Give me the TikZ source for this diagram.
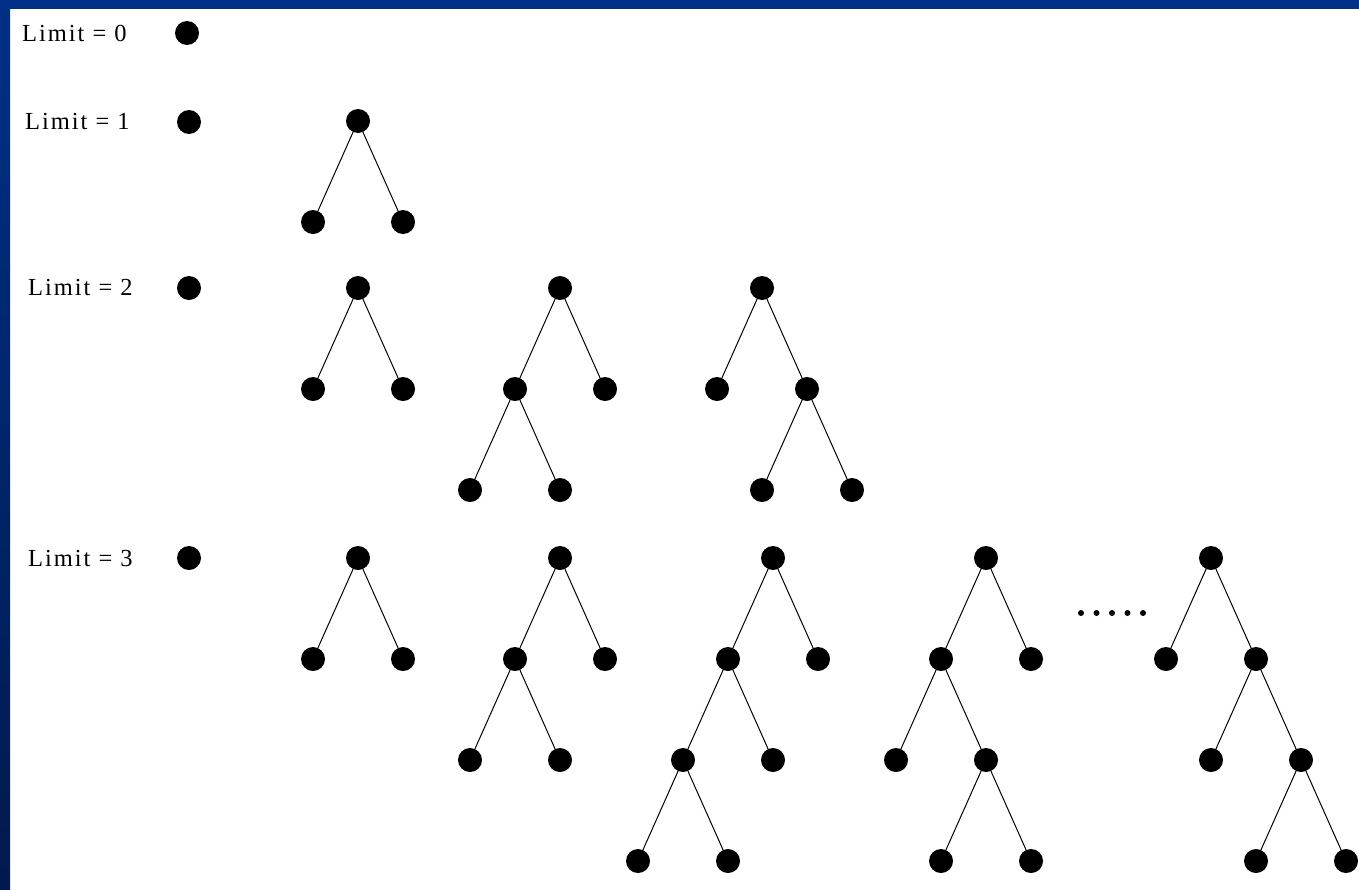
\documentclass[tikz,border=0pt]{standalone}
\usepackage{fontspec}
\setmainfont{Liberation Serif}
\newfontfamily\labelfont[LetterSpace=8]{Liberation Serif}
\usepackage{xcolor}
\usetikzlibrary{positioning}
\definecolor{frametop}{HTML}{003087}
\definecolor{framebot}{HTML}{001A4D}

\begin{document}
\begin{tikzpicture}[
  x=1pt, y=1pt,
  node distance=101pt and 45pt, on grid,
  dot/.style={circle, fill=black, minimum size=24pt, inner sep=0pt},
  edge/.style={draw, line width=1pt},
  lbl/.style={anchor=west, inner sep=0pt, font=\fontsize{24.5}{28}\selectfont\labelfont},
]
  \useasboundingbox (0,-889) rectangle (1359,0);
  % frame
  \fill[white] (0,-889) rectangle (1359,0);
  \shade[top color=frametop, bottom color=framebot] (0,-889) rectangle (10,0);
  \fill[frametop] (0,-9) rectangle (1359,0);

  % limit 0
  \node[lbl] (l0) at (22,-33) {Limit = 0};
  \node[dot] (d0) at (187,-33) {};

  % limit 1
  \node[lbl] (l1) at (25,-122) {Limit = 1};
  \node[dot] (d1) at (189,-122) {};
  \node[dot] (a) at (358,-121) {};
  \node[dot, below left=of a] (al) {};
  \node[dot, below right=of a] (ar) {};
  \draw[edge] (a) -- (al);
  \draw[edge] (a) -- (ar);

  % limit 2
  \node[lbl] (l2) at (28,-288) {Limit = 2};
  \node[dot] (d2) at (189,-288) {};
  \node[dot] (b) at (358,-288) {};
  \node[dot, below left=of b] (bl) {};
  \node[dot, below right=of b] (br) {};
  \draw[edge] (b) -- (bl);
  \draw[edge] (b) -- (br);

  \node[dot] (c) at (560,-288) {};
  \node[dot, below left=of c] (cl) {};
  \node[dot, below right=of c] (cr) {};
  \node[dot, below left=of cl] (cll) {};
  \node[dot, below right=of cl] (clr) {};
  \draw[edge] (c) -- (cl);
  \draw[edge] (c) -- (cr);
  \draw[edge] (cl) -- (cll);
  \draw[edge] (cl) -- (clr);

  \node[dot] (e) at (762,-288) {};
  \node[dot, below left=of e] (el) {};
  \node[dot, below right=of e] (er) {};
  \node[dot, below left=of er] (erl) {};
  \node[dot, below right=of er] (err) {};
  \draw[edge] (e) -- (el);
  \draw[edge] (e) -- (er);
  \draw[edge] (er) -- (erl);
  \draw[edge] (er) -- (err);

  % limit 3
  \node[lbl] (l3) at (28,-558) {Limit = 3};
  \node[dot] (d3) at (189,-558) {};
  \node[dot] (f) at (358,-558) {};
  \node[dot, below left=of f] (fl) {};
  \node[dot, below right=of f] (fr) {};
  \draw[edge] (f) -- (fl);
  \draw[edge] (f) -- (fr);

  \node[dot] (g) at (560,-558) {};
  \node[dot, below left=of g] (gl) {};
  \node[dot, below right=of g] (gr) {};
  \node[dot, below left=of gl] (gll) {};
  \node[dot, below right=of gl] (glr) {};
  \draw[edge] (g) -- (gl);
  \draw[edge] (g) -- (gr);
  \draw[edge] (gl) -- (gll);
  \draw[edge] (gl) -- (glr);

  \node[dot] (h) at (773,-558) {};
  \node[dot, below left=of h] (hl) {};
  \node[dot, below right=of h] (hr) {};
  \node[dot, below left=of hl] (hll) {};
  \node[dot, below right=of hl] (hlr) {};
  \node[dot, below left=of hll] (hlll) {};
  \node[dot, below right=of hll] (hllr) {};
  \draw[edge] (h) -- (hl);
  \draw[edge] (h) -- (hr);
  \draw[edge] (hl) -- (hll);
  \draw[edge] (hl) -- (hlr);
  \draw[edge] (hll) -- (hlll);
  \draw[edge] (hll) -- (hllr);

  \node[dot] (k) at (986,-558) {};
  \node[dot, below left=of k] (kl) {};
  \node[dot, below right=of k] (kr) {};
  \node[dot, below left=of kl] (kll) {};
  \node[dot, below right=of kl] (klr) {};
  \node[dot, below left=of klr] (klrl) {};
  \node[dot, below right=of klr] (klrr) {};
  \draw[edge] (k) -- (kl);
  \draw[edge] (k) -- (kr);
  \draw[edge] (kl) -- (kll);
  \draw[edge] (kl) -- (klr);
  \draw[edge] (klr) -- (klrl);
  \draw[edge] (klr) -- (klrr);

  % ellipsis
  \foreach \i in {0,...,4}
    \fill (1081+15.5*\i,-613) circle (3pt);

  \node[dot] (m) at (1211,-558) {};
  \node[dot, below left=of m] (ml) {};
  \node[dot, below right=of m] (mr) {};
  \node[dot, below left=of mr] (mrl) {};
  \node[dot, below right=of mr] (mrr) {};
  \node[dot, below left=of mrr] (mrrl) {};
  \node[dot, below right=of mrr] (mrrr) {};
  \draw[edge] (m) -- (ml);
  \draw[edge] (m) -- (mr);
  \draw[edge] (mr) -- (mrl);
  \draw[edge] (mr) -- (mrr);
  \draw[edge] (mrr) -- (mrrl);
  \draw[edge] (mrr) -- (mrrr);
\end{tikzpicture}
\end{document}
